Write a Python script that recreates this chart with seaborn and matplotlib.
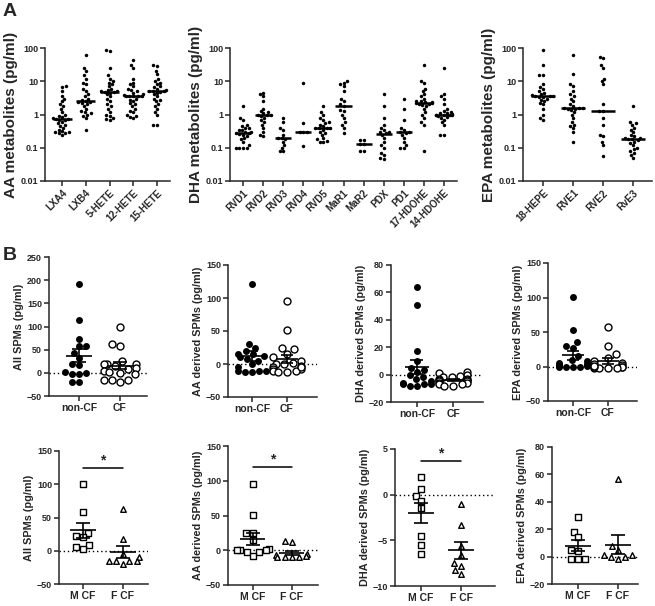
import numpy as np
import pandas as pd
import matplotlib.pyplot as plt
import seaborn as sns

# ---- Panel A data (pg/ml, log scale) ----
aa_names = ["LXA4", "LXB4", "5-HETE", "12-HETE", "15-HETE"]
lxa4 = [7, 6.5, 5, 3.5, 3, 2.5, 2, 1.8, 1.5, 1.2, 1, 0.9, 0.85, 0.8, 0.75, 0.75, 0.7, 0.7,
        0.6, 0.55, 0.5, 0.45, 0.4, 0.35, 0.3, 0.3, 0.28, 0.25, 0.27, 0.32]
lxb4 = [60, 25, 20, 15, 12, 9, 8, 6, 5, 4, 3.5, 3, 2.8, 2.5, 2.3, 2.3, 2.2, 2, 1.8, 1.5,
        1.3, 1.2, 1.1, 1, 0.9, 0.8, 0.35]
hete5 = [90, 80, 25, 15, 12, 10, 9, 8, 7, 6, 5.5, 5, 5, 4.8, 4.5, 4, 3.5, 3, 2.5, 2, 1.8,
         1.5, 1.2, 1, 0.9, 0.8, 0.7, 0.75, 4.6]
hete12 = [45, 30, 25, 12, 9, 8, 7, 6, 5.5, 5, 4.5, 4, 3.8, 3.7, 3.7, 3.5, 3, 2.8, 2.5, 2.2,
          2, 1.8, 1.5, 1.3, 1.2, 1, 0.9, 0.8, 0.85, 3.6, 3.6]
hete15 = [30, 28, 20, 16, 12, 10, 9, 8, 7, 6, 5.5, 5, 5, 4.8, 4.5, 4, 3.5, 3, 2.8, 2.5, 2,
          1.8, 1.5, 1.2, 1, 0.5, 0.48, 6.5, 5.2]

dha_names = ["RVD1", "RVD2", "RVD3", "RVD4", "RVD5", "MaR1", "MaR2", "PDX", "PD1",
             "17-HDOHE", "14-HDOHE"]
rvd1 = [1.8, 0.8, 0.7, 0.5, 0.45, 0.4, 0.35, 0.3, 0.28, 0.27, 0.26, 0.25, 0.22, 0.2, 0.18,
        0.15, 0.12, 0.1, 0.1, 0.1, 0.1, 0.3, 0.4, 0.35]
rvd2 = [4.5, 4, 3.5, 2.5, 1.5, 1.3, 1.2, 1.1, 1, 1, 0.95, 0.9, 0.8, 0.7, 0.6, 0.5, 0.4, 0.3,
        0.25, 0.22]
rvd3 = [0.8, 0.6, 0.4, 0.35, 0.25, 0.2, 0.2, 0.18, 0.15, 0.12, 0.1, 0.08, 0.08]
rvd4 = [9, 0.55, 0.3, 0.3, 0.3, 0.11]
rvd5 = [1.8, 1.2, 1, 0.8, 0.7, 0.6, 0.55, 0.5, 0.45, 0.4, 0.38, 0.38, 0.35, 0.3, 0.28,
        0.25, 0.2, 0.18, 0.16, 0.15, 0.15, 0.4]
mar1 = [10, 9, 8, 7, 5, 3, 2.5, 2, 1.8, 1.4, 1.3, 1, 0.8, 0.6, 0.5, 0.4, 0.28]
mar2 = [0.17, 0.17, 0.13, 0.13, 0.08, 0.08]
pdx = [4, 1.8, 0.8, 0.5, 0.4, 0.35, 0.3, 0.28, 0.25, 0.2, 0.15, 0.12, 0.1, 0.07, 0.06,
       0.05, 0.045, 0.3]
pd1 = [3, 1.5, 0.7, 0.4, 0.35, 0.3, 0.28, 0.25, 0.2, 0.15, 0.12, 0.1, 0.1, 0.3]
hdohe17 = [30, 10, 9, 6, 5, 4, 3.5, 3, 2.5, 2.2, 2.2, 2, 1.8, 1.5, 1.2, 1, 0.8, 0.6, 0.5,
           0.08, 2.3, 2.1, 1.9, 2.4, 2.6]
hdohe14 = [25, 4, 3.5, 3, 2, 1.5, 1.3, 1.2, 1.1, 1, 1, 1, 0.95, 0.9, 0.85, 0.8, 0.7, 0.6,
           0.5, 0.25, 0.24, 1.05, 0.98, 1.1]

epa_names = ["18-HEPE", "RVE1", "RVE2", "RvE3"]
hepe18 = [90, 30, 15, 15, 8, 6.5, 6, 5, 4.5, 4, 3.8, 3.5, 3.5, 3.3, 3, 2.8, 2.5, 2.2, 2,
          1.5, 1, 0.8, 0.7, 3.6, 3.4]
rve1 = [60, 16, 8, 7, 5, 4, 3.5, 3, 2.5, 2, 1.8, 1.6, 1.5, 1.5, 1.4, 1.2, 1, 0.8, 0.6, 0.5,
        0.45, 0.4, 0.3, 0.15, 1.55, 1.6]
rve2 = [55, 50, 30, 25, 12, 10, 8, 2, 1.3, 0.8, 0.5, 0.25, 0.23, 0.15, 0.12, 0.055, 1.3]
rve3 = [1.8, 0.6, 0.55, 0.5, 0.4, 0.35, 0.3, 0.25, 0.22, 0.2, 0.18, 0.18, 0.17, 0.15, 0.14,
        0.12, 0.1, 0.09, 0.08, 0.07, 0.06, 0.05, 0.2]

# ---- Panel B data: non-CF vs CF ----
cf_groups = ["non-CF", "CF"]
all_noncf = [192, 113, 74, 57, 57, 43, 32, 19, 17, 0, -3, -3, -20, -20, 2]
all_cf = [100, 63, 58, 25, 20, 20, 18, 15, 10, 8, 5, 0, -3, -15, -15, -15, -20, 2]
aa_noncf = [121, 30, 25, 20, 15, 15, 12, 10, 8, 5, 0, -10, -10, -10, -12, -12, -5]
aa_cf = [96, 51, 25, 22, 15, 10, 5, 2, 0, -3, -5, -8, -8, -10, -10, -12, -12, -5, 0]
dha_noncf = [64, 51, 17, 10, 5, 3, 0, -2, -5, -6, -7, -7, -7, -8, -8, 2, -3]
dha_cf = [2, 1, 0, -1, -2, -3, -3, -4, -4, -5, -5, -6, -6, -7, -7, -8, -8, -2]
epa_noncf = [101, 53, 35, 30, 27, 15, 10, 8, 5, 3, 2, 1, 0, 0, 0, 0, 2, 1]
epa_cf = [57, 30, 18, 12, 8, 5, 3, 2, 0, 0, -2, -2, -2, -2, 0, 1]

# ---- Panel B bottom: male vs female CF ----
sex_groups = ["M CF", "F CF"]
all_m = [101, 58, 27, 22, 20, 8, 6, 2]
all_f = [63, 17, -5, -10, -15, -15, -15, -15, -20]
aa_m = [96, 51, 25, 25, 15, 2, 0, 0, -2, -2, -8, 0]
aa_f = [13, 12, -5, -7, -8, -10, -10, -10, -10]
dha_m = [1.9, 0.6, -0.2, -0.7, -1.5, -4.5, -5.5, -6.5]
dha_f = [-1, -3.3, -5.6, -6.6, -7.5, -7.8, -8.3, -8.7]
epa_m = [29, 18, 14, 5, 4, -2, -2, -2]
epa_f = [57, 8, 5, 1, 1, 0, 0, -2]

sns.set_style("ticks")
plt.rcParams["font.family"] = ["Liberation Sans", "DejaVu Sans"]
plt.rcParams["font.weight"] = "bold"
plt.rcParams["axes.labelweight"] = "bold"
plt.rcParams["axes.linewidth"] = 1.1
plt.rcParams["xtick.major.width"] = 1.1
plt.rcParams["ytick.major.width"] = 1.1
plt.rcParams["xtick.major.size"] = 3.5
plt.rcParams["ytick.major.size"] = 3.5

W, H = 655, 606
fig = plt.figure(figsize=(6.55, 6.06), dpi=100)


def add_ax(left, right, top, bottom):
    return fig.add_axes([left / W, 1 - bottom / H, (right - left) / W, (bottom - top) / H])


def style_ax(ax):
    sns.despine(ax=ax)
    ax.tick_params(labelsize=6.5, pad=1.5)
    ax.set_xlabel("")


def metab_panel(ax, names, values, ylabel, xlim):
    df = pd.DataFrame({"name": np.repeat(names, [len(v) for v in values]),
                       "val": np.concatenate(values)})
    sns.swarmplot(data=df, x="name", y="val", order=names, color="black", size=2.5,
                  log_scale=True, ax=ax)
    for i, v in enumerate(values):
        ax.hlines(np.median(v), i - 0.4, i + 0.4, color="black", lw=1.8, zorder=5)
    ax.set_ylim(0.01, 100)
    ax.set_yticks([0.01, 0.1, 1, 10, 100])
    ax.set_yticklabels(["0.01", "0.1", "1", "10", "100"])
    ax.minorticks_off()
    ax.set_xlim(*xlim)
    style_ax(ax)
    ax.set_xticks(range(len(names)))
    ax.set_xticklabels(names, rotation=45, ha="right", rotation_mode="anchor", fontsize=7)
    ax.set_ylabel(ylabel, fontsize=11, labelpad=2)


def group_panel(ax, groups, values, markers, fills, ylabel, ylim, yticks, xlim, sig=None):
    for i, (v, m, f) in enumerate(zip(values, markers, fills)):
        df = pd.DataFrame({"g": groups[i], "v": v})
        size = 5 if m == "o" else 4
        sns.swarmplot(data=df, x="g", y="v", order=groups, marker=m,
                      color="black" if f else "white", edgecolor="black",
                      linewidth=0 if f else 1.0, size=size, ax=ax, zorder=3)
        mean = np.mean(v)
        sem = np.std(v, ddof=1) / np.sqrt(len(v))
        ax.hlines(mean, i - 0.32, i + 0.32, color="black", lw=1.2, zorder=6)
        ax.vlines(i, mean - sem, mean + sem, color="black", lw=1.2, zorder=6)
        ax.hlines([mean - sem, mean + sem], i - 0.18, i + 0.18, color="black", lw=1.2,
                  zorder=6)
    ax.axhline(0, color="black", ls=(0, (1, 2)), lw=1, zorder=1)
    ax.set_ylim(*ylim)
    ax.set_yticks(yticks)
    ax.set_xlim(*xlim)
    style_ax(ax)
    ax.set_xticks([0, 1])
    ax.set_xticklabels(groups, fontsize=7.5)
    ax.set_ylabel(ylabel, fontsize=7.8, labelpad=2)
    if sig is not None:
        ax.plot([0, 1], [sig, sig], color="black", lw=1.1, clip_on=False)
        ax.text(0.5, sig, "*", ha="center", va="bottom", fontsize=10)


# Row A
ax = add_ax(45, 170, 48, 181)
metab_panel(ax, aa_names, [lxa4, lxb4, hete5, hete12, hete15],
            "AA metabolites (pg/ml)", (-0.72, 4.55))
ax = add_ax(230, 457, 48, 181)
metab_panel(ax, dha_names, [rvd1, rvd2, rvd3, rvd4, rvd5, mar1, mar2, pdx, pd1, hdohe17, hdohe14],
            "DHA metabolites (pg/ml)", (-0.65, 10.65))
ax = add_ax(523, 652, 48, 181)
metab_panel(ax, epa_names, [hepe18, rve1, rve2, rve3],
            "EPA metabolites (pg/ml)", (-0.67, 3.63))

# Row B (non-CF vs CF)
circ = ["o", "o"]
fill = [True, False]
ax = add_ax(49, 147, 257, 396)
group_panel(ax, cf_groups, [all_noncf, all_cf], circ, fill, "All SPMs (pg/ml)",
            (-50, 250), range(-50, 251, 50), (-0.73, 1.66))
ax = add_ax(228, 317, 265, 397)
group_panel(ax, cf_groups, [aa_noncf, aa_cf], circ, fill, "AA derived SPMs (pg/ml)",
            (-50, 150), range(-50, 151, 50), (-0.69, 1.86))
ax = add_ax(391, 483, 265, 402)
group_panel(ax, cf_groups, [dha_noncf, dha_cf], circ, fill, "DHA derived SPMs (pg/ml)",
            (-20, 80), range(-20, 81, 20), (-0.72, 1.83))
ax = add_ax(548, 637, 263, 401)
group_panel(ax, cf_groups, [epa_noncf, epa_cf], circ, fill, "EPA derived SPMs (pg/ml)",
            (-50, 150), range(-50, 151, 50), (-0.71, 1.83))

# Row C (male vs female CF)
sq = ["s", "^"]
opn = [False, False]
ax = add_ax(59, 148, 451, 584)
group_panel(ax, sex_groups, [all_m, all_f], sq, opn, "All SPMs (pg/ml)",
            (-50, 150), range(-50, 151, 50), (-0.6, 1.63), sig=125)
ax = add_ax(228, 318, 446, 585)
group_panel(ax, sex_groups, [aa_m, aa_f], sq, opn, "AA derived SPMs (pg/ml)",
            (-50, 150), range(-50, 151, 50), (-0.64, 1.67), sig=120)
ax = add_ax(395, 495, 449, 586)
group_panel(ax, sex_groups, [dha_m, dha_f], sq, opn, "DHA derived SPMs (pg/ml)",
            (-10, 5), [-10, -5, 0, 5], (-0.65, 1.85), sig=3.7)
ax = add_ax(552, 638, 447, 584)
group_panel(ax, sex_groups, [epa_m, epa_f], sq, opn, "EPA derived SPMs (pg/ml)",
            (-20, 80), range(-20, 81, 20), (-0.65, 1.5))

fig.text(3 / W, 1 - 3 / H, "A", fontsize=14, fontweight="bold", va="top")
fig.text(3 / W, 1 - 247 / H, "B", fontsize=14, fontweight="bold", va="top")

fig.savefig("out.png", dpi=100)
